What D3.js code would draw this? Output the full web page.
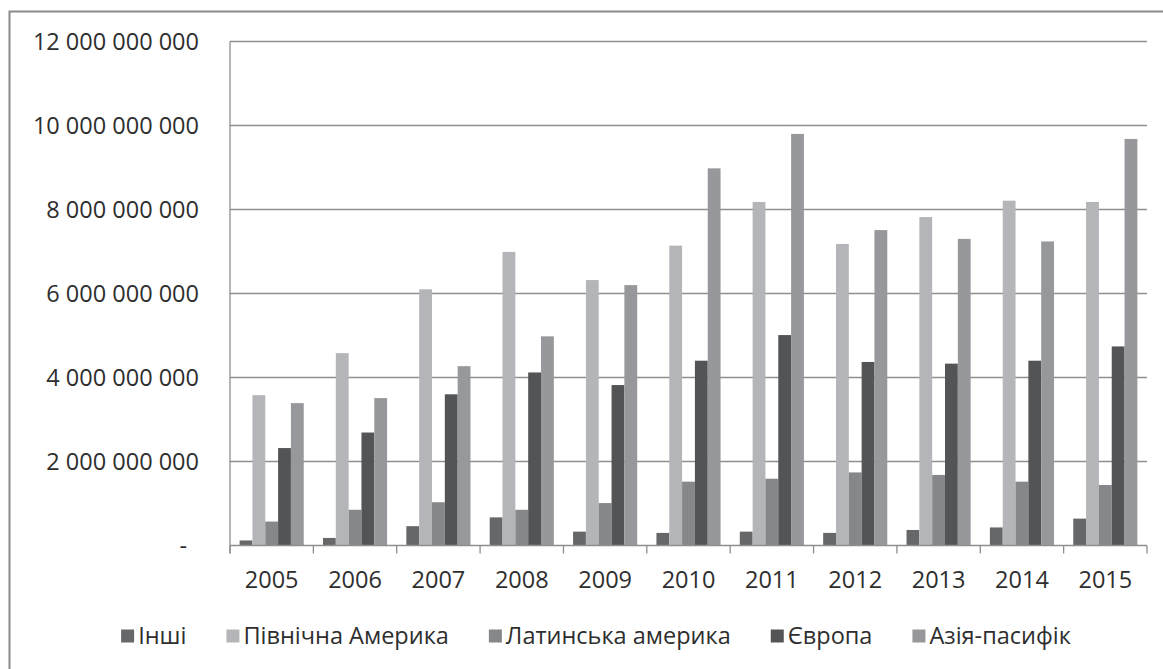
<!DOCTYPE html>
<html>
<head>
<meta charset="utf-8">
<script src="https://cdn.jsdelivr.net/npm/d3@7"></script>
<style>
  body { margin: 0; background: #fff; }
  text { font-family: "Open Sans", "Noto Sans", sans-serif; fill: #2e2e2e; }
</style>
</head>
<body>
<svg id="chart" width="1163" height="669"></svg>
<script>
// values in billions
var years = ["2005", "2006", "2007", "2008", "2009", "2010", "2011", "2012", "2013", "2014", "2015"];
var seriesNames = ["Інші", "Північна Америка", "Латинська америка", "Європа", "Азія-пасифік"];
var seriesColors = ["#666769", "#b4b5b8", "#86878a", "#535456", "#97989b"];
var other = [0.12, 0.18, 0.46, 0.67, 0.33, 0.30, 0.33, 0.30, 0.37, 0.43, 0.64];
var northAmerica = [3.58, 4.58, 6.10, 6.99, 6.32, 7.14, 8.18, 7.18, 7.82, 8.21, 8.18];
var latinAmerica = [0.57, 0.85, 1.03, 0.85, 1.01, 1.52, 1.59, 1.74, 1.68, 1.52, 1.44];
var europe = [2.32, 2.69, 3.60, 4.12, 3.82, 4.40, 5.01, 4.37, 4.33, 4.40, 4.74];
var asiaPacific = [3.39, 3.51, 4.27, 4.98, 6.20, 8.98, 9.80, 7.51, 7.30, 7.24, 9.68];
var yTicks = [0, 2e9, 4e9, 6e9, 8e9, 10e9, 12e9];

var series = [other, northAmerica, latinAmerica, europe, asiaPacific];

var svg = d3.select("#chart"),
    fontSize = "23.5px",
    plotLeft = 230, plotRight = 1147, plotTop = 41.5, plotBottom = 545.5,
    x = d3.scaleBand().domain(years).range([plotLeft, plotRight]),
    inner = d3.scaleBand().domain(d3.range(seriesNames.length)).range([0, x.bandwidth()]).paddingOuter(0.75),
    y = d3.scaleLinear().domain([0, 12e9]).range([plotBottom, plotTop]),
    fmt = d3.formatLocale({decimal: ",", thousands: " ", grouping: [3], currency: ["", ""]}).format(",");

// outer frame, right/bottom edges run off the picture
svg.append("rect").attr("x", 9.5).attr("y", 11.5).attr("width", 1300).attr("height", 800)
  .style("fill", "none").style("stroke", "#8a8a8a").style("stroke-width", 2);

svg.append("g").attr("class", "grid").selectAll("line").data(yTicks.filter(function (d) { return d > 0 }))
  .enter().append("line").attr("x1", plotLeft).attr("x2", plotRight)
  .attr("y1", function (d) { return y(d) }).attr("y2", function (d) { return y(d) })
  .style("stroke", "#8e8e8e").style("stroke-width", 1.3);

var yAxis = svg.append("g").attr("transform", "translate(" + plotLeft + ",0)")
  .call(d3.axisLeft(y).tickValues(yTicks).tickSize(0).tickPadding(31).tickFormat(function (d) { return d === 0 ? "-" : fmt(d) }));
yAxis.select(".domain").remove();
yAxis.selectAll("text").style("font-size", fontSize).attr("dy", "0.36em")
  .attr("dx", function (d) { return d === 0 ? -12 : 0 });

var groups = svg.append("g").attr("class", "bars").selectAll("g").data(years).enter().append("g")
  .attr("transform", function (d) { return "translate(" + x(d) + ",0)" });
groups.selectAll("rect").data(function (d, i) {
  return series.map(function (s, k) { return {k: k, value: s[i] * 1e9} })
}).enter().append("rect")
  .attr("x", function (d) { return inner(d.k) })
  .attr("width", inner.bandwidth())
  .attr("y", function (d) { return y(d.value) })
  .attr("height", function (d) { return plotBottom - y(d.value) })
  .style("fill", function (d) { return seriesColors[d.k] });

// axis lines and category boundary ticks
svg.append("line").attr("x1", plotLeft).attr("x2", plotLeft).attr("y1", plotTop).attr("y2", plotBottom + 8)
  .style("stroke", "#8e8e8e").style("stroke-width", 1.3);
svg.append("line").attr("x1", plotLeft).attr("x2", plotRight).attr("y1", plotBottom).attr("y2", plotBottom)
  .style("stroke", "#8e8e8e").style("stroke-width", 1.3);
svg.append("g").selectAll("line").data(d3.range(years.length + 1)).enter().append("line")
  .attr("x1", function (i) { return plotLeft + i * x.step() }).attr("x2", function (i) { return plotLeft + i * x.step() })
  .attr("y1", plotBottom).attr("y2", plotBottom + 8)
  .style("stroke", "#8e8e8e").style("stroke-width", 1.3);

var xAxis = svg.append("g").attr("transform", "translate(0," + plotBottom + ")")
  .call(d3.axisBottom(x).tickSize(0).tickPadding(34));
xAxis.select(".domain").remove();
xAxis.selectAll("text").style("font-size", fontSize).attr("dy", "0.36em");

// legend, laid out from the measured label widths
var legend = svg.append("g").attr("class", "legend"),
    items = legend.selectAll("g").data(seriesNames).enter().append("g"),
    gap = 40, pos = 0;
items.append("rect").attr("width", 13).attr("height", 13).attr("y", -6.5)
  .style("fill", function (d, i) { return seriesColors[i] });
items.append("text").attr("x", 17).attr("dy", "0.36em").style("font-size", fontSize).text(function (d) { return d });
items.each(function () {
  var w = 17 + d3.select(this).select("text").node().getComputedTextLength();
  d3.select(this).attr("transform", "translate(" + pos + ",0)");
  pos += w + gap;
});
legend.attr("transform", "translate(" + (596 - (pos - gap) / 2) + ",636)");
</script>
</body>
</html>
